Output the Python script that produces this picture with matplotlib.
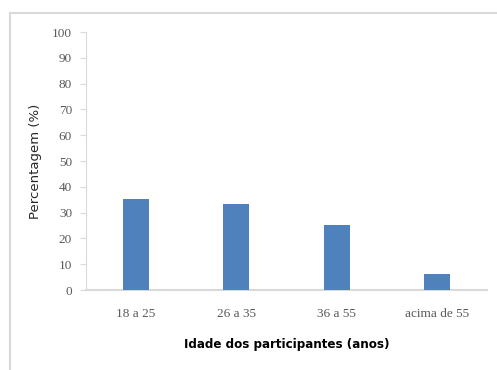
import matplotlib.pyplot as plt
from matplotlib.lines import Line2D

# dados
categorias = ['18 a 25', '26 a 35', '36 a 55', 'acima de 55']
percentagens = [35.2, 33.2, 25.1, 6.1]
ticks_y = [0, 10, 20, 30, 40, 50, 60, 70, 80, 90, 100]

cor_barra = '#4F81BD'
cor_texto = '#595959'
cor_eixo = '#D9D9D9'

fig = plt.figure(figsize=(4.97, 3.70), dpi=100)
ax = fig.add_axes([0.173, 0.216, 0.807, 0.6975])

x = range(len(categorias))
ax.bar(x, percentagens, width=0.26, color=cor_barra, zorder=3)

ax.set_xlim(-0.5, len(categorias) - 0.5)
ax.set_ylim(0, 100)
ax.set_yticks(ticks_y)
ax.set_xticks(list(x))
ax.set_xticklabels(categorias)

for s in ['top', 'right']:
    ax.spines[s].set_visible(False)
ax.spines['left'].set_color(cor_eixo)
ax.spines['bottom'].set_color(cor_eixo)
ax.spines['bottom'].set_linewidth(1.5)

ax.tick_params(axis='y', length=4, color=cor_eixo, labelcolor=cor_texto, pad=6)
ax.tick_params(axis='x', length=0, labelcolor=cor_texto, pad=13)
for lab in ax.get_xticklabels() + ax.get_yticklabels():
    lab.set_family('Liberation Serif')
    lab.set_fontsize(9.5)

ax.set_ylabel('Percentagem (%)', fontsize=9.5, color='#262626',
              family='DejaVu Sans', labelpad=7)
ax.set_xlabel('Idade dos participantes (anos)', fontsize=9.5, fontweight='bold',
              family='DejaVu Sans', fontstretch='condensed', labelpad=13)

# moldura exterior (só esquerda e topo)
fig.add_artist(Line2D([10 / 497, 10 / 497], [0, 1 - 13 / 370], color='#D9D9D9',
                      lw=1.5, transform=fig.transFigure))
fig.add_artist(Line2D([10 / 497, 1], [1 - 13 / 370, 1 - 13 / 370], color='#D9D9D9',
                      lw=1.5, transform=fig.transFigure))

fig.savefig('out.png', dpi=100)
